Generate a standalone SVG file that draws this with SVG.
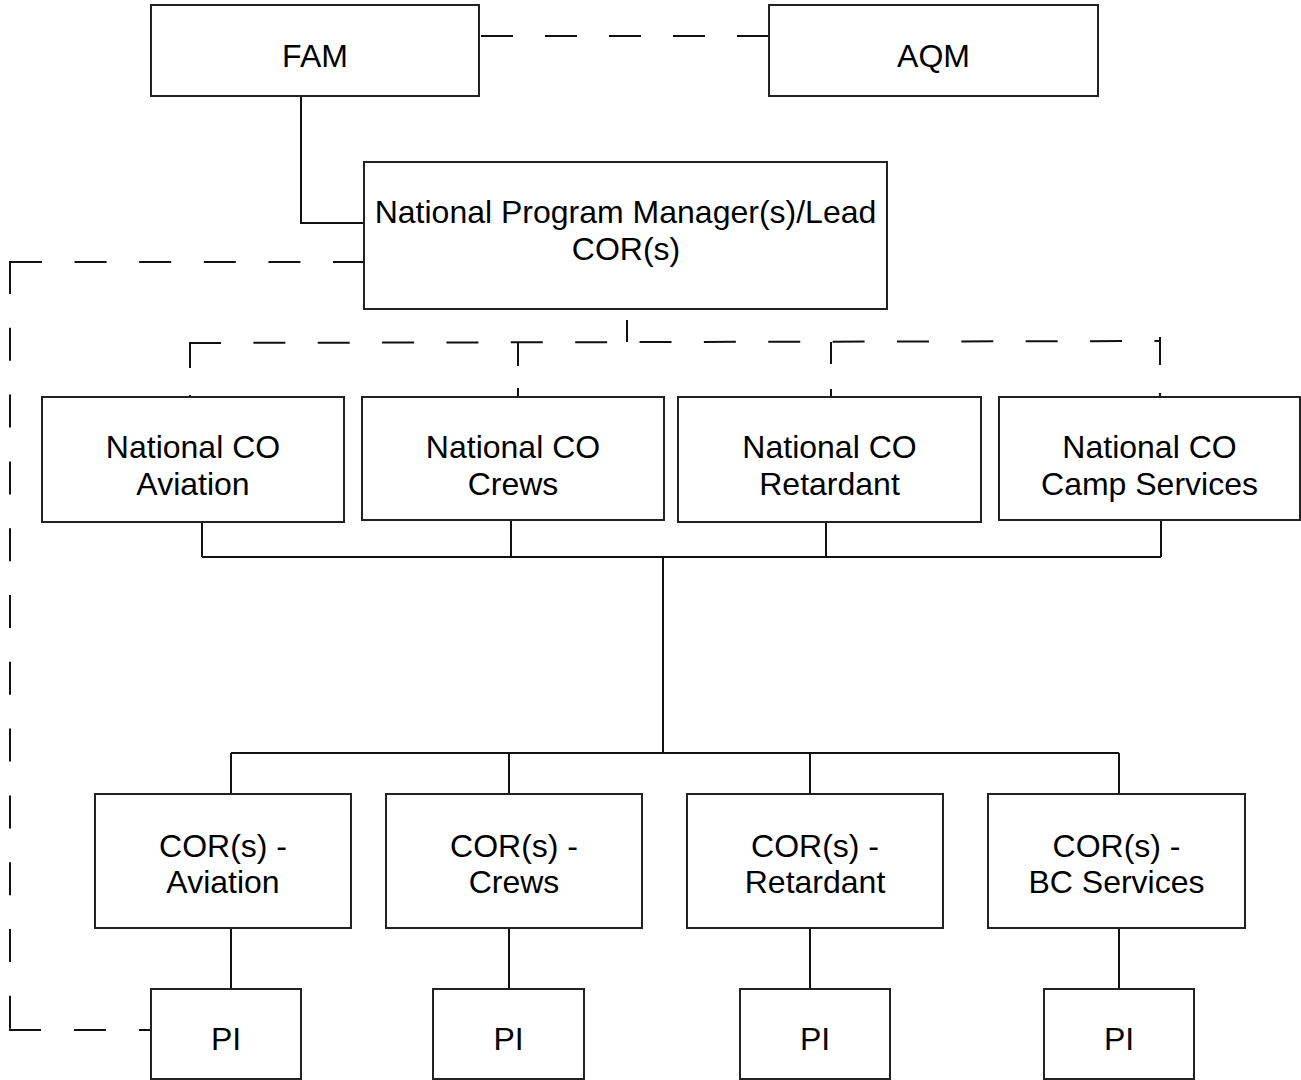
<svg xmlns="http://www.w3.org/2000/svg" width="1301" height="1080" viewBox="0 0 1301 1080">
<style>
.box{fill:#fff;stroke:#222;stroke-width:2}
.t{font-family:"Liberation Sans",Arial,sans-serif;font-size:32px;fill:#000;text-anchor:middle}
.s{fill:none;stroke:#111;stroke-width:2}
.dh{fill:none;stroke:#111;stroke-width:2;stroke-dasharray:32 32.5}
.dv{fill:none;stroke:#111;stroke-width:2;stroke-dasharray:33 33.8}
</style>
<rect width="1301" height="1080" fill="#fff"/>
<g id="connectors">
<line class="dh" x1="481" y1="36" x2="769" y2="36" style="stroke-dasharray:32 32"/>
<path class="s" d="M301,96 V223 H364"/>
<line class="dh" x1="10" y1="262" x2="364" y2="262" style="stroke-dasharray:32 32.6"/>
<line class="dv" x1="10" y1="261" x2="10" y2="1031"/>
<line class="dh" x1="9" y1="1030" x2="151" y2="1030" style="stroke-dasharray:32 33"/>
<line class="s" x1="627" y1="309" x2="627" y2="343" style="stroke-dasharray:0 11 22 50"/>
<line class="dh" x1="189" y1="343" x2="1161" y2="341" style="stroke-dasharray:32 32.36"/>
<line class="s" x1="190" y1="342" x2="190" y2="397" style="stroke-dasharray:26 27"/>
<line class="s" x1="518" y1="342" x2="518" y2="397" style="stroke-dasharray:24 22"/>
<line class="s" x1="831" y1="342" x2="831" y2="397" style="stroke-dasharray:22 25"/>
<line class="s" x1="1160" y1="337" x2="1160" y2="397" style="stroke-dasharray:28 28"/>
<path class="s" d="M202,522 V557 M511,520 V557 M826,522 V557 M1161,520 V557 M202,557 H1161 M663,557 V753 M231,753 H1119 M231,753 V794 M509,753 V794 M810,753 V794 M1119,753 V794"/>
<path class="s" d="M231,928 V989 M509,928 V989 M810,928 V989 M1119,928 V989"/>
</g>
<g id="fam"><rect class="box" x="151" y="5" width="328" height="91"/><text class="t" x="315" y="66.5">FAM</text></g>
<g id="aqm"><rect class="box" x="769" y="5" width="329" height="91"/><text class="t" x="933.5" y="66.5">AQM</text></g>
<g id="npm"><rect class="box" x="364" y="162" width="523" height="147"/><text class="t" x="625.5" y="223">National Program Manager(s)/Lead</text><text class="t" x="626" y="260">COR(s)</text></g>
<g id="co-aviation"><rect class="box" x="42" y="397" width="302" height="125"/><text class="t" x="193" y="458">National CO</text><text class="t" x="193" y="495">Aviation</text></g>
<g id="co-crews"><rect class="box" x="362" y="397" width="302" height="123"/><text class="t" x="513" y="458">National CO</text><text class="t" x="513" y="495">Crews</text></g>
<g id="co-retardant"><rect class="box" x="678" y="397" width="303" height="125"/><text class="t" x="829.5" y="458">National CO</text><text class="t" x="829.5" y="495">Retardant</text></g>
<g id="co-camp"><rect class="box" x="999" y="397" width="301" height="123"/><text class="t" x="1149.5" y="458">National CO</text><text class="t" x="1149.5" y="495">Camp Services</text></g>
<g id="cor-aviation"><rect class="box" x="95" y="794" width="256" height="134"/><text class="t" x="223" y="857">COR(s) -</text><text class="t" x="223" y="893">Aviation</text></g>
<g id="cor-crews"><rect class="box" x="386" y="794" width="256" height="134"/><text class="t" x="514" y="857">COR(s) -</text><text class="t" x="514" y="893">Crews</text></g>
<g id="cor-retardant"><rect class="box" x="687" y="794" width="256" height="134"/><text class="t" x="815" y="857">COR(s) -</text><text class="t" x="815" y="893">Retardant</text></g>
<g id="cor-bc"><rect class="box" x="988" y="794" width="257" height="134"/><text class="t" x="1116.5" y="857">COR(s) -</text><text class="t" x="1116.5" y="893">BC Services</text></g>
<g id="pi-1"><rect class="box" x="151" y="989" width="150" height="90"/><text class="t" x="226" y="1050">PI</text></g>
<g id="pi-2"><rect class="box" x="433" y="989" width="151" height="90"/><text class="t" x="508.5" y="1050">PI</text></g>
<g id="pi-3"><rect class="box" x="740" y="989" width="150" height="90"/><text class="t" x="815" y="1050">PI</text></g>
<g id="pi-4"><rect class="box" x="1044" y="989" width="150" height="90"/><text class="t" x="1119" y="1050">PI</text></g>
</svg>
